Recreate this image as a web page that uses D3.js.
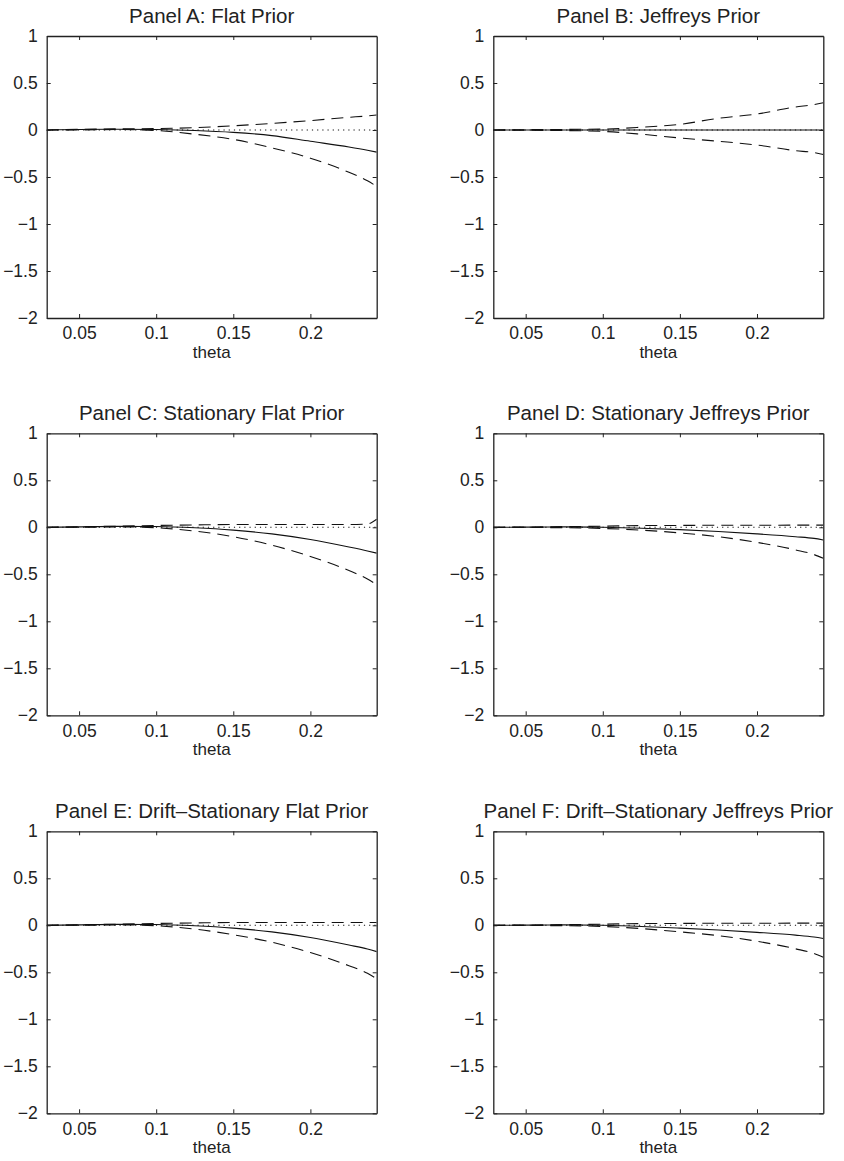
<!DOCTYPE html>
<html>
<head>
<meta charset="utf-8">
<script src="https://cdn.jsdelivr.net/npm/d3@7"></script>
<style>
  body { margin: 0; background: #fff; }
  text { font-family: "Liberation Sans", Arial, sans-serif; fill: #222; }
</style>
</head>
<body>
<svg width="844" height="1161"></svg>
<script>
// values
var thetaGrid = [0.029, 0.05, 0.075, 0.1, 0.125, 0.15, 0.175, 0.2, 0.225, 0.237, 0.243];

var meanA  = [0, 0.005, 0.008, 0.005, -0.005, -0.025, -0.06, -0.12, -0.18, -0.215, -0.235];
var upperA = [0, 0.007, 0.012, 0.015, 0.025, 0.045, 0.07, 0.1, 0.135, 0.15, 0.16];
var lowerA = [0, 0.0, 0.005, -0.005, -0.045, -0.1, -0.19, -0.3, -0.45, -0.54, -0.6];

var meanB  = [0, 0, 0, 0, 0, 0, 0, 0, 0, 0, 0];
var upperB = [0, 0.003, 0.006, 0.01, 0.03, 0.06, 0.125, 0.17, 0.245, 0.27, 0.29];
var lowerB = [0, -0.003, -0.006, -0.015, -0.045, -0.085, -0.12, -0.16, -0.22, -0.24, -0.26];

var meanC  = [0, 0.005, 0.01, 0.008, -0.005, -0.03, -0.07, -0.13, -0.21, -0.252, -0.275];
var upperC = [0, 0.005, 0.012, 0.02, 0.025, 0.03, 0.03, 0.03, 0.03, 0.035, 0.085];
var lowerC = [0, 0.0, 0.005, -0.005, -0.04, -0.1, -0.19, -0.31, -0.46, -0.55, -0.61];

var meanD  = [0, 0.002, 0.004, 0.0, -0.01, -0.025, -0.045, -0.07, -0.1, -0.118, -0.135];
var upperD = [0, 0.003, 0.007, 0.012, 0.018, 0.02, 0.022, 0.022, 0.023, 0.023, 0.023];
var lowerD = [0, -0.002, -0.004, -0.012, -0.03, -0.06, -0.1, -0.16, -0.24, -0.29, -0.33];

var meanE  = [0, 0.005, 0.01, 0.008, -0.005, -0.03, -0.07, -0.13, -0.21, -0.252, -0.28];
var upperE = [0, 0.005, 0.012, 0.02, 0.025, 0.03, 0.03, 0.03, 0.03, 0.03, 0.03];
var lowerE = [0, 0, 0.005, -0.005, -0.04, -0.1, -0.18, -0.29, -0.43, -0.51, -0.57];

var meanF  = [0, 0.002, 0.004, 0, -0.012, -0.03, -0.05, -0.075, -0.105, -0.125, -0.14];
var upperF = [0, 0.003, 0.007, 0.012, 0.018, 0.02, 0.022, 0.022, 0.023, 0.023, 0.023];
var lowerF = [0, -0.002, -0.004, -0.012, -0.035, -0.07, -0.11, -0.17, -0.25, -0.3, -0.34];

var panelTitles = ["Panel A: Flat Prior", "Panel B: Jeffreys Prior",
                   "Panel C: Stationary Flat Prior", "Panel D: Stationary Jeffreys Prior",
                   "Panel E: Drift\u2013Stationary Flat Prior", "Panel F: Drift\u2013Stationary Jeffreys Prior"];
var xTicks = [0.05, 0.1, 0.15, 0.2];
var yTicks = [1, 0.5, 0, -0.5, -1, -1.5, -2];
var xLabel = "theta";

var panels = [
  [meanA, upperA, lowerA], [meanB, upperB, lowerB],
  [meanC, upperC, lowerC], [meanD, upperD, lowerD],
  [meanE, upperE, lowerE], [meanF, upperF, lowerF]
];

var svg = d3.select("svg");
var colLeft = [46.7, 493.3], rowTop = [36, 433.3, 831.3];
var w = 330, h = 282, tickLen = 4;

var x = d3.scaleLinear().domain([0.029, 0.243]).range([0, w]);
var y = d3.scaleLinear().domain([-2, 1]).range([h, 0]);

function fmt(v) { return String(v).replace("-", "\u2212"); }

var line = d3.line()
    .curve(d3.curveMonotoneX)
    .x(function (d) { return x(d[0]); })
    .y(function (d) { return y(d[1]); });

panels.forEach(function (series, i) {
  var g = svg.append("g")
      .attr("transform", "translate(" + colLeft[i % 2] + "," + rowTop[Math.floor(i / 2)] + ")");

  g.append("clipPath").attr("id", "clip" + i)
    .append("rect").attr("width", w).attr("height", h);

  var plot = g.append("g").attr("clip-path", "url(#clip" + i + ")");

  // dotted zero reference
  plot.append("path")
      .attr("d", line(thetaGrid.map(function (t) { return [t, 0]; })))
      .attr("fill", "none").attr("stroke", "#111")
      .attr("stroke-width", 1.1).attr("stroke-dasharray", "1.2,4");

  var styles = [null, "12,7", "12,7"];
  series.forEach(function (vals, k) {
    plot.append("path")
        .attr("d", line(thetaGrid.map(function (t, j) { return [t, vals[j]]; })))
        .attr("fill", "none").attr("stroke", "#111")
        .attr("stroke-width", 1.1)
        .attr("stroke-dasharray", styles[k]);
  });

  // axes: ticks point inward on all four sides
  var bottom = g.append("g").attr("transform", "translate(0," + h + ")")
      .call(d3.axisBottom(x).tickValues(xTicks).tickSizeInner(-tickLen).tickSizeOuter(0).tickPadding(9).tickFormat(fmt));
  var top = g.append("g")
      .call(d3.axisTop(x).tickValues(xTicks).tickSizeInner(-tickLen).tickSizeOuter(0).tickFormat(""));
  var left = g.append("g")
      .call(d3.axisLeft(y).tickValues(yTicks).tickSizeInner(-tickLen).tickSizeOuter(0).tickPadding(9).tickFormat(fmt));
  var right = g.append("g").attr("transform", "translate(" + w + ",0)")
      .call(d3.axisRight(y).tickValues(yTicks).tickSizeInner(-tickLen).tickSizeOuter(0).tickFormat(""));

  [bottom, top, left, right].forEach(function (a) {
    a.select(".domain").attr("stroke", "#222").attr("stroke-width", 1.3);
    a.selectAll(".tick line").attr("stroke", "#222").attr("stroke-width", 1);
    a.selectAll("text").style("font-size", "17.5px").attr("fill", "#222");
  });

  g.append("text")
      .attr("x", w / 2).attr("y", h + 40)
      .attr("text-anchor", "middle")
      .style("font-size", "17px")
      .text(xLabel);

  g.append("text")
      .attr("x", w / 2).attr("y", -13)
      .attr("text-anchor", "middle")
      .style("font-size", "20.5px")
      .text(panelTitles[i]);
});
</script>
</body>
</html>
